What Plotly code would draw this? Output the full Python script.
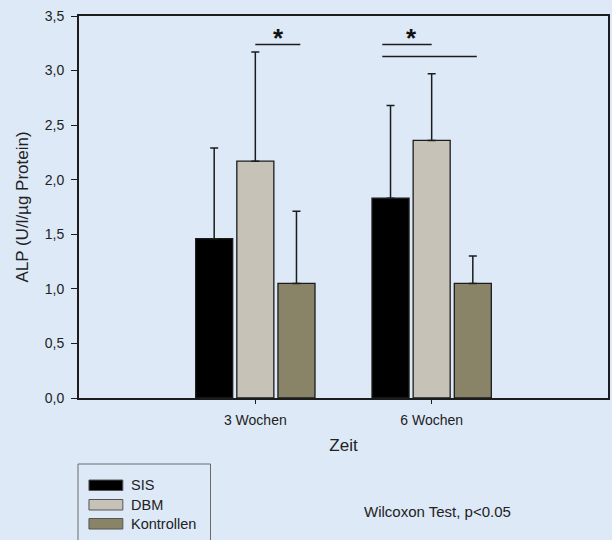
import plotly.graph_objects as go

# ---- data ----
categories = ["3 Wochen", "6 Wochen"]
cat_pos = [1, 2]
series_names = ["SIS", "DBM", "Kontrollen"]
sis_mean = [1.46, 1.83]
sis_err = [0.83, 0.85]
dbm_mean = [2.17, 2.36]
dbm_err = [1.00, 0.61]
ktr_mean = [1.05, 1.05]
ktr_err = [0.66, 0.25]
y_ticks = [0.0, 0.5, 1.0, 1.5, 2.0, 2.5, 3.0, 3.5]

colors = ["#000000", "#c6c2b8", "#898468"]
means = [sis_mean, dbm_mean, ktr_mean]
errs = [sis_err, dbm_err, ktr_err]

W, H = 612, 540
L, R, T, B = 79, 2, 16, 142
pw, ph = W - L - R, H - T - B

def px(x):
    return (x - L) / pw

def py(y):
    return (H - B - y) / ph

font = "Liberation Sans, Arial, sans-serif"
dark = "#1c1c1c"
txt = "#222222"

fig = go.Figure()
for name, m, e, c in zip(series_names, means, errs, colors):
    fig.add_trace(go.Bar(
        x=cat_pos, y=m, name=name,
        marker=dict(color=c, line=dict(color=dark, width=1.3)),
        error_y=dict(type="data", array=e, arrayminus=[0] * len(e), symmetric=False,
                     color=dark, thickness=1.5, width=4),
        showlegend=False,
    ))

fig.update_layout(
    width=W, height=H,
    margin=dict(l=L, r=R, t=T, b=B),
    paper_bgcolor="#dde9f7", plot_bgcolor="#dde9f7",
    barmode="group", bargap=0.3, bargroupgap=0.1,
    separators=",.",
    font=dict(family=font, size=14, color=txt),
)
fig.update_xaxes(
    range=[0, 3], tickvals=cat_pos, ticktext=categories,
    showgrid=False, zeroline=False,
    showline=True, linecolor=dark, linewidth=2, mirror=True,
    ticks="outside", ticklen=4, tickwidth=1.3, tickcolor=dark,
    tickfont=dict(size=14), ticklabelstandoff=4,
    title=dict(text="Zeit", font=dict(size=17), standoff=12),
)
fig.update_yaxes(
    range=[0, 3.5], tickvals=y_ticks, tickformat=".1f",
    showgrid=False, zeroline=False,
    showline=True, linecolor=dark, linewidth=2, mirror=True,
    ticks="outside", ticklen=6, tickwidth=1.3, tickcolor=dark,
    tickfont=dict(size=14), ticklabelstandoff=4,
    title=dict(text="ALP (U/l/µg Protein)", font=dict(size=17), standoff=12),
)

# significance brackets
for x0, x1, y in [(1.0, 1.255, 3.24), (1.72, 2.0, 3.24), (1.72, 2.256, 3.13)]:
    fig.add_shape(type="line", xref="x", yref="y", x0=x0, x1=x1, y0=y, y1=y,
                  line=dict(color=dark, width=1.5))
for x in [1.133, 1.883]:
    fig.add_annotation(x=x, y=3.30, xref="x", yref="y", text="<b>*</b>", showarrow=False,
                       font=dict(size=26, color="#111111"), yanchor="middle")

# legend (manual, wide swatches)
fig.add_shape(type="rect", xref="paper", yref="paper",
              x0=px(78), x1=px(211), y0=py(464), y1=py(575),
              line=dict(color="#6a6a6a", width=1), fillcolor="rgba(0,0,0,0)")
sw_tops = [480, 499.5, 518.5]
for name, c, top in zip(series_names, colors, sw_tops):
    fig.add_shape(type="rect", xref="paper", yref="paper",
                  x0=px(89), x1=px(123), y0=py(top + 10.5), y1=py(top),
                  line=dict(color="#555555", width=1), fillcolor=c)
    fig.add_annotation(x=px(129), y=py(top + 5.3), xref="paper", yref="paper",
                       text=name, showarrow=False, xanchor="left", yanchor="middle",
                       font=dict(size=14.5, color=txt))

fig.add_annotation(x=px(439), y=py(511), xref="paper", yref="paper",
                   text="Wilcoxon Test, p<0.05", showarrow=False,
                   xanchor="center", yanchor="middle", font=dict(size=15, color=txt))

fig.write_html("out.html", config={"displayModeBar": False},
               post_script="document.body.style.margin='0';")
